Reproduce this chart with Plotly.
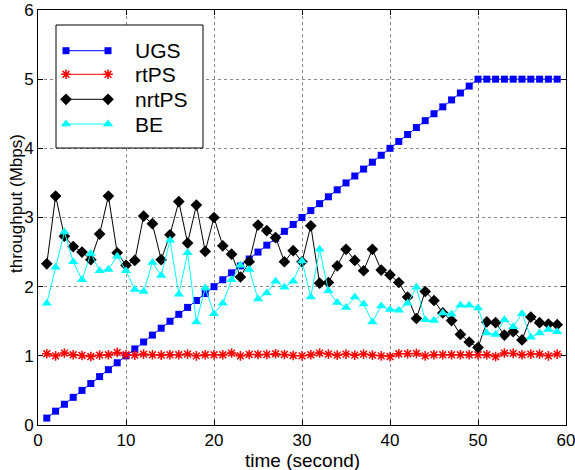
import plotly.graph_objects as go

t = list(range(1, 60))

ugs = [round(0.1 * i, 1) for i in range(1, 51)] + [5.0] * 9

rtps = [1.03, 1.00, 1.04, 1.015, 1.005, 0.99, 1.01, 1.015, 1.05, 1.015,
        1.01, 1.025, 1.015, 1.01, 1.015, 1.015, 1.025, 1.0, 1.015, 1.015,
        1.015, 1.04, 1.0, 1.02, 1.02, 1.02, 1.03, 1.02, 1.005, 1.0,
        1.015, 1.04, 1.025, 1.01, 1.025, 1.01, 1.025, 1.01, 1.0, 0.99,
        1.03, 1.03, 1.035, 1.0, 1.015, 1.015, 1.015, 1.015, 1.015, 1.015,
        1.015, 0.99, 1.04, 1.035, 1.015, 1.025, 1.025, 1.0, 1.025]

nrtps = [2.33, 3.31, 2.73, 2.58, 2.50, 2.39, 2.76, 3.31, 2.49, 2.31,
         2.38, 3.02, 2.91, 2.39, 2.75, 3.23, 2.63, 3.18, 2.51, 3.00,
         2.59, 2.47, 2.14, 2.36, 2.89, 2.81, 2.71, 2.36, 2.52, 2.36,
         2.88, 2.05, 2.06, 2.30, 2.54, 2.38, 2.23, 2.54, 2.24, 2.17,
         2.06, 1.85, 1.54, 1.93, 1.80, 1.62, 1.51, 1.31, 1.20, 1.12,
         1.49, 1.48, 1.30, 1.35, 1.23, 1.56, 1.48, 1.46, 1.45]

be = [1.76, 2.28, 2.79, 2.36, 2.10, 2.48, 2.23, 2.25, 2.44, 2.23,
      1.96, 1.93, 2.35, 2.16, 2.67, 1.89, 2.49, 1.49, 1.98, 1.61,
      1.76, 2.10, 2.31, 2.25, 1.82, 1.91, 2.08, 1.99, 2.08, 2.37,
      1.85, 2.54, 1.94, 1.77, 1.70, 1.85, 1.75, 1.49, 1.72, 1.67,
      1.66, 1.76, 1.99, 1.52, 1.51, 1.62, 1.60, 1.73, 1.73, 1.69,
      1.33, 1.31, 1.52, 1.42, 1.61, 1.27, 1.33, 1.38, 1.35]

names = ["UGS", "rtPS", "nrtPS", "BE"]
series = [ugs, rtps, nrtps, be]
colors = ["#0000FF", "#FF0000", "#000000", "#00FFFF"]
symbols = ["square", "asterisk-open", "diamond", "triangle-up"]
sizes = [7, 8, 9, 9]

x_ticks = [0, 10, 20, 30, 40, 50, 60]
y_ticks = [0, 1, 2, 3, 4, 5, 6]

FONT = "Liberation Sans, Arial, sans-serif"

fig = go.Figure()

for name, ys, c, s, sz in zip(names, series, colors, symbols, sizes):
    marker = dict(symbol=s, size=sz, color=c)
    if s == "asterisk-open":
        marker["line"] = dict(color=c, width=1.5)
    fig.add_trace(go.Scatter(x=t, y=ys, mode="lines+markers", name=name,
                             line=dict(color=c, width=1), marker=marker,
                             showlegend=False))

# Custom legend drawn in a pixel-offset overlay axis (plot area 528 x 415 px)
fig.add_trace(go.Scatter(x=[18, 165, 165, 18, 18], y=[15, 15, 138, 138, 15],
                         xaxis="x2", yaxis="y2", mode="lines", fill="toself",
                         fillcolor="white", line=dict(color="black", width=1),
                         showlegend=False, hoverinfo="skip"))
leg_y = [40.7, 64.3, 89.3, 114]
for name, c, s, sz, ly in zip(names, colors, symbols, sizes, leg_y):
    marker = dict(symbol=s, size=sz, color=c)
    if s == "asterisk-open":
        marker["line"] = dict(color=c, width=1.5)
    fig.add_trace(go.Scatter(x=[28, 70], y=[ly, ly], xaxis="x2", yaxis="y2",
                             mode="lines+markers", line=dict(color=c, width=1),
                             marker=marker, showlegend=False, hoverinfo="skip"))
    fig.add_annotation(x=95, y=ly, xref="x2", yref="y2", text=name,
                       showarrow=False, xanchor="left", yanchor="middle",
                       font=dict(size=21, color="black", family=FONT))

axis_common = dict(showline=True, linecolor="black", linewidth=1, mirror="allticks",
                   ticks="inside", ticklen=5, tickcolor="black", automargin=False,
                   showgrid=True, gridcolor="#888888", griddash="dot", gridwidth=1,
                   zeroline=False, ticklabeloverflow="allow",
                   tickfont=dict(size=17, color="black", family=FONT))

fig.update_layout(
    width=575, height=470,
    margin=dict(l=38, r=9, t=10, b=45),
    paper_bgcolor="white", plot_bgcolor="white",
    font=dict(family=FONT, color="black"),
    xaxis=dict(range=[0, 60], tickvals=x_ticks, **axis_common),
    yaxis=dict(range=[0, 6], tickvals=y_ticks, **axis_common),
    xaxis2=dict(overlaying="x", range=[0, 528], visible=False, showgrid=False),
    yaxis2=dict(overlaying="y", range=[415, 0], visible=False, showgrid=False),
)

fig.add_annotation(x=0.5, y=(470 - 45 - 460) / 415.0, xref="paper", yref="paper",
                   text="time (second)", showarrow=False,
                   font=dict(size=19, family=FONT, color="black"),
                   xanchor="center", yanchor="middle")
fig.add_annotation(x=(16 - 38) / 528.0, y=(425 - 204) / 415.0, xref="paper", yref="paper",
                   text="throughput (Mbps)", textangle=-90, showarrow=False,
                   font=dict(size=17, family=FONT, color="black"),
                   xanchor="center", yanchor="middle")

fig.write_html("out.html", config={"displayModeBar": False},
               post_script="document.body.style.margin='0';document.body.style.overflow='hidden';")
